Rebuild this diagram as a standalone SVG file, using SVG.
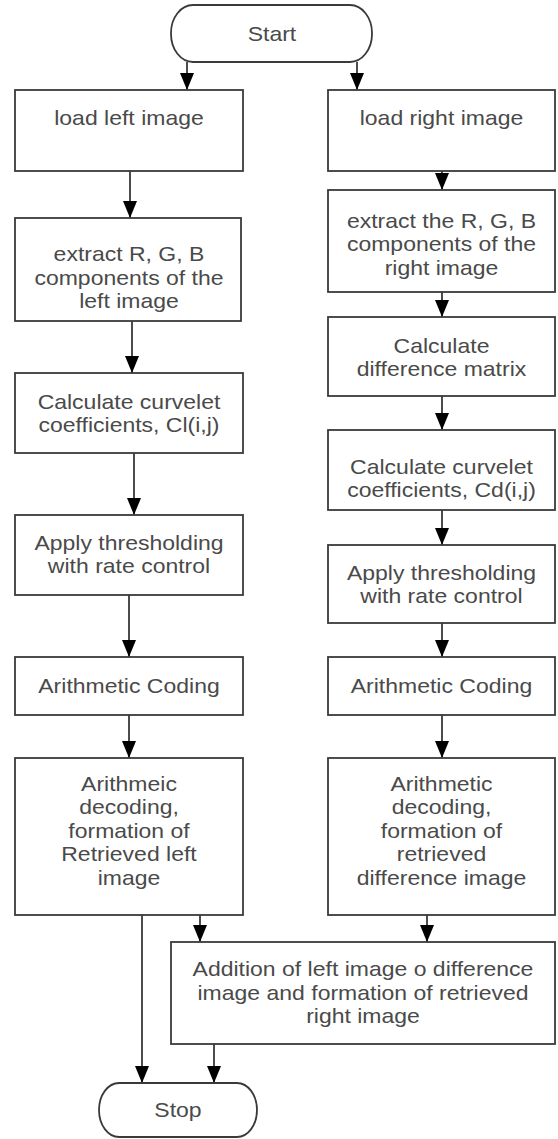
<svg xmlns="http://www.w3.org/2000/svg" width="558" height="1139" viewBox="0 0 558 1139">
<defs>
<style>
.box{fill:#fff;stroke:#3a3a3a;stroke-width:1.8}
.t{font-family:"Liberation Sans",Arial,sans-serif;font-size:21px;fill:#4a4a4a;text-anchor:middle}
.c{stroke:#111;stroke-width:1.5;fill:none}
</style>
<marker id="ah" viewBox="0 0 17 14" refX="17" refY="7" markerWidth="17" markerHeight="14" markerUnits="userSpaceOnUse" orient="auto">
<path d="M0,0 L17,7 L0,14 z" fill="#000"/>
</marker>
</defs>
<rect width="558" height="1139" fill="#fff"/>
<g id="connectors">
<line class="c" x1="187" y1="62" x2="187" y2="90" marker-end="url(#ah)"/>
<line class="c" x1="357" y1="62" x2="357" y2="90" marker-end="url(#ah)"/>
<line class="c" x1="130" y1="171" x2="130" y2="218" marker-end="url(#ah)"/>
<line class="c" x1="442" y1="171" x2="442" y2="190" marker-end="url(#ah)"/>
<line class="c" x1="132" y1="321" x2="132" y2="373" marker-end="url(#ah)"/>
<line class="c" x1="442" y1="292" x2="442" y2="317" marker-end="url(#ah)"/>
<line class="c" x1="134" y1="453" x2="134" y2="515" marker-end="url(#ah)"/>
<line class="c" x1="442" y1="396" x2="442" y2="430" marker-end="url(#ah)"/>
<line class="c" x1="442" y1="510" x2="442" y2="545" marker-end="url(#ah)"/>
<line class="c" x1="129" y1="595" x2="129" y2="657" marker-end="url(#ah)"/>
<line class="c" x1="442" y1="623" x2="442" y2="657" marker-end="url(#ah)"/>
<line class="c" x1="129" y1="715" x2="129" y2="758" marker-end="url(#ah)"/>
<line class="c" x1="442" y1="715" x2="442" y2="758" marker-end="url(#ah)"/>
<line class="c" x1="200" y1="915" x2="200" y2="942" marker-end="url(#ah)"/>
<line class="c" x1="427" y1="915" x2="427" y2="942" marker-end="url(#ah)"/>
<line class="c" x1="142" y1="915" x2="142" y2="1083" marker-end="url(#ah)"/>
<line class="c" x1="214" y1="1044" x2="214" y2="1083" marker-end="url(#ah)"/>
</g>
<g id="start">
<rect class="box" x="171" y="5" width="201" height="57" rx="22" ry="28"/>
<g transform="matrix(1.095,0,0,1,-25.84,0)"><text class="t" x="272" y="41">Start</text></g>
</g>
<g id="load-left">
<rect class="box" x="15" y="90" width="228" height="81"/>
<g transform="matrix(1.095,0,0,1,-12.255,0)"><text class="t" x="129" y="125">load left image</text></g>
</g>
<g id="load-right">
<rect class="box" x="328" y="90" width="227" height="81"/>
<g transform="matrix(1.095,0,0,1,-41.94,0)"><text class="t" x="441.5" y="125">load right image</text></g>
</g>
<g id="extract-left">
<rect class="box" x="15" y="218" width="226" height="103"/>
<g transform="matrix(1.095,0,0,1,-12.255,0)">
<text class="t" x="129" y="261.5">extract R, G, B</text>
<text class="t" x="129" y="285">components of the</text>
<text class="t" x="129" y="308.5">left image</text>
</g>
</g>
<g id="extract-right">
<rect class="box" x="328" y="190" width="227" height="102"/>
<g transform="matrix(1.095,0,0,1,-41.94,0)">
<text class="t" x="441.5" y="228">extract the R, G, B</text>
<text class="t" x="441.5" y="251.5">components of the</text>
<text class="t" x="441.5" y="275">right image</text>
</g>
</g>
<g id="diff-matrix">
<rect class="box" x="328" y="317" width="227" height="79"/>
<g transform="matrix(1.095,0,0,1,-41.94,0)">
<text class="t" x="441.5" y="352.75">Calculate</text>
<text class="t" x="441.5" y="376.25">difference matrix</text>
</g>
</g>
<g id="curvelet-left">
<rect class="box" x="15" y="373" width="228" height="80"/>
<g transform="matrix(1.095,0,0,1,-12.255,0)">
<text class="t" x="129" y="408.75">Calculate curvelet</text>
<text class="t" x="129" y="432.25">coefficients, Cl(i,j)</text>
</g>
</g>
<g id="curvelet-right">
<rect class="box" x="328" y="430" width="227" height="80"/>
<g transform="matrix(1.095,0,0,1,-41.94,0)">
<text class="t" x="441.5" y="473.75">Calculate curvelet</text>
<text class="t" x="441.5" y="497.25">coefficients, Cd(i,j)</text>
</g>
</g>
<g id="threshold-left">
<rect class="box" x="15" y="515" width="228" height="80"/>
<g transform="matrix(1.095,0,0,1,-12.255,0)">
<text class="t" x="129" y="549.75">Apply thresholding</text>
<text class="t" x="129" y="573.25">with rate control</text>
</g>
</g>
<g id="threshold-right">
<rect class="box" x="328" y="545" width="227" height="78"/>
<g transform="matrix(1.095,0,0,1,-41.94,0)">
<text class="t" x="441.5" y="579.75">Apply thresholding</text>
<text class="t" x="441.5" y="603.25">with rate control</text>
</g>
</g>
<g id="coding-left">
<rect class="box" x="15" y="657" width="228" height="58"/>
<g transform="matrix(1.095,0,0,1,-12.255,0)"><text class="t" x="129" y="693.5">Arithmetic Coding</text></g>
</g>
<g id="coding-right">
<rect class="box" x="328" y="657" width="227" height="58"/>
<g transform="matrix(1.095,0,0,1,-41.94,0)"><text class="t" x="441.5" y="693.5">Arithmetic Coding</text></g>
</g>
<g id="decoding-left">
<rect class="box" x="15" y="758" width="228" height="157"/>
<g transform="matrix(1.095,0,0,1,-12.255,0)">
<text class="t" x="129" y="791">Arithmeic</text>
<text class="t" x="129" y="814.5">decoding,</text>
<text class="t" x="129" y="838">formation of</text>
<text class="t" x="129" y="861.5">Retrieved left</text>
<text class="t" x="129" y="885">image</text>
</g>
</g>
<g id="decoding-right">
<rect class="box" x="328" y="758" width="227" height="157"/>
<g transform="matrix(1.095,0,0,1,-41.94,0)">
<text class="t" x="441.5" y="791">Arithmetic</text>
<text class="t" x="441.5" y="814.5">decoding,</text>
<text class="t" x="441.5" y="838">formation of</text>
<text class="t" x="441.5" y="861.5">retrieved</text>
<text class="t" x="441.5" y="885">difference image</text>
</g>
</g>
<g id="addition">
<rect class="box" x="171" y="942" width="384" height="102"/>
<g transform="matrix(1.095,0,0,1,-34.485,0)">
<text class="t" x="363" y="976.5">Addition of left image o difference</text>
<text class="t" x="363" y="1000">image and formation of retrieved</text>
<text class="t" x="363" y="1023.5">right image</text>
</g>
</g>
<g id="stop">
<rect class="box" x="99" y="1083" width="158" height="54" rx="20" ry="27"/>
<g transform="matrix(1.095,0,0,1,-16.91,0)"><text class="t" x="178" y="1117.5">Stop</text></g>
</g>
</svg>
